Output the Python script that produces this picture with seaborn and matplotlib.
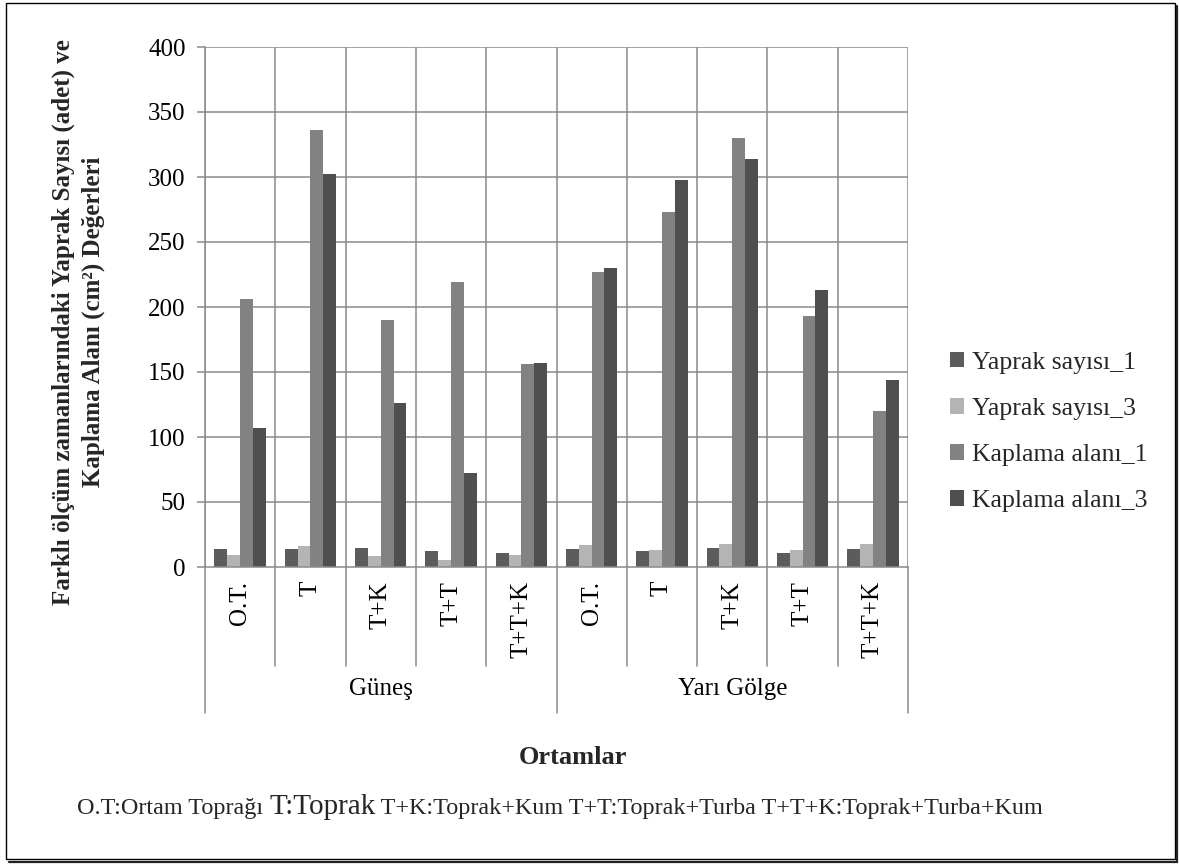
import matplotlib
matplotlib.use("Agg")
import matplotlib.pyplot as plt
from matplotlib.patches import Rectangle
import seaborn as sns
import pandas as pd

# Growing media (per light condition) and measurement series
groups = ["Güneş", "Yarı Gölge"]
media = ["O.T.", "T", "T+K", "T+T", "T+T+K"]
series = ["Yaprak sayısı_1", "Yaprak sayısı_3", "Kaplama alanı_1", "Kaplama alanı_3"]

yaprak_1 = [14, 14, 14.5, 12, 11, 14, 12, 14.5, 11, 14]
yaprak_3 = [9.5, 16, 8.5, 5.5, 9.5, 17, 13, 18, 13, 18]
kaplama_1 = [206, 336, 190, 219, 156, 227, 273, 330, 193, 120]
kaplama_3 = [107, 302, 126, 72, 157, 230, 298, 314, 213, 144]

y_ticks = [0, 50, 100, 150, 200, 250, 300, 350, 400]

colors = ["#5c5c5c", "#b4b4b4", "#828282", "#4f4f4f"]
grid_color = "#8a8a8a"

keys = [f"{g}|{m}" for g in groups for m in media]
labels = [m for g in groups for m in media]

df = pd.DataFrame({
    "key": keys * 4,
    "series": [s for s in series for _ in keys],
    "value": yaprak_1 + yaprak_3 + kaplama_1 + kaplama_3,
})

sns.set_theme(style="white")
plt.rcParams["font.family"] = ["Liberation Serif", "DejaVu Serif"]

W, H = 1179, 864
fig = plt.figure(figsize=(W / 100, H / 100), dpi=100)
fig.patch.set_facecolor("white")

def fx(px):
    return px / W

def fy(py):
    return 1 - py / H

ax_l, ax_r, ax_t, ax_b = 205, 908, 47, 567
ax = fig.add_axes([fx(ax_l), fy(ax_b), fx(ax_r - ax_l), (ax_b - ax_t) / H])

sns.barplot(data=df, x="key", y="value", hue="series", order=keys,
            hue_order=series, palette=colors, width=0.73, saturation=1,
            edgecolor="none", linewidth=0, ax=ax, legend=False, zorder=3)

ax.set_ylim(y_ticks[0], y_ticks[-1])
ax.set_xlim(-0.5, len(keys) - 0.5)
ax.set_yticks(y_ticks)
ax.set_yticklabels([str(v) for v in y_ticks], fontsize=18)

# vertical gridlines on category boundaries, horizontal on y ticks
for b in range(len(keys) + 1):
    ax.axvline(b - 0.5, color=grid_color, lw=1.1, zorder=1)
for v in y_ticks[1:]:
    ax.axhline(v, color=grid_color, lw=1.1, zorder=1)

for side in ["top", "right"]:
    ax.spines[side].set_visible(False)
for side in ["left", "bottom"]:
    ax.spines[side].set_color(grid_color)
    ax.spines[side].set_linewidth(1.1)
    ax.spines[side].set_zorder(4)

ax.tick_params(axis="y", length=6, width=1.1, color=grid_color, pad=8,
               labelcolor="black", direction="out", left=True)
ax.set_xticks(range(len(keys)))
ax.set_xticklabels(labels, rotation=90, fontsize=18, va="top", ha="center")
ax.tick_params(axis="x", length=0, pad=10, labelcolor="black")
ax.set_xlabel("")
ax.set_ylabel("")

# category label cells below the axis
inner_depth = (666 - ax_b) / (ax_b - ax_t)
outer_depth = (713 - ax_b) / (ax_b - ax_t)
trans = ax.get_xaxis_transform()
for b in range(len(keys) + 1):
    depth = outer_depth if b % len(media) == 0 else inner_depth
    ax.plot([b - 0.5, b - 0.5], [0, -depth], transform=trans, color=grid_color,
            lw=1.1, clip_on=False, zorder=2)

group_y = -(689 - ax_b) / (ax_b - ax_t)
for gi, g in enumerate(groups):
    center = gi * len(media) + (len(media) - 1) / 2
    ax.text(center, group_y, g, transform=trans, ha="center", va="center",
            fontsize=18, color="black")

# legend
handles = [Rectangle((0, 0), 1, 1, facecolor=c, edgecolor="none") for c in colors]
fig.legend(handles, series, loc="center left",
           bbox_to_anchor=(fx(950), fy(432)), frameon=False, fontsize=18.5,
           handlelength=0.55, handleheight=0.55, handletextpad=0.3,
           labelspacing=0.94, borderpad=0, borderaxespad=0)

# axis titles
fig.text(fx(78), fy(322),
         "Farklı ölçüm zamanlarındaki Yaprak Sayısı (adet) ve\nKaplama Alanı (cm²) Değerleri",
         rotation=90, ha="center", va="center", multialignment="center",
         fontsize=18, fontweight="bold", linespacing=1.38)
fig.text(fx(573), fy(757), "Ortamlar", ha="center", va="center",
         fontsize=19, fontweight="bold")

# footnote with abbreviations
renderer = fig.canvas.get_renderer()
parts = [("O.T:Ortam Toprağı ", 17.4), ("T:Toprak", 21),
         (" T+K:Toprak+Kum T+T:Toprak+Turba T+T+K:Toprak+Turba+Kum", 17.4)]
x_cursor = 77
for txt, size in parts:
    t = fig.text(fx(x_cursor), fy(814), txt, ha="left", va="baseline",
                 fontsize=size)
    bb = t.get_window_extent(renderer=renderer)
    x_cursor += bb.width

# outer frame with a shadowed lower/right edge
fig.add_artist(Rectangle((fx(6), fy(859)), fx(1169), (859 - 3) / H,
                         transform=fig.transFigure, fill=False,
                         edgecolor="black", lw=1.0))
fig.add_artist(plt.Line2D([fx(1177), fx(1177)], [fy(862), fy(6)],
                          transform=fig.transFigure, color="#222222", lw=1.6))
fig.add_artist(plt.Line2D([fx(9), fx(1177)], [fy(862), fy(862)],
                          transform=fig.transFigure, color="#222222", lw=1.6))

fig.savefig("out.png", dpi=100)
